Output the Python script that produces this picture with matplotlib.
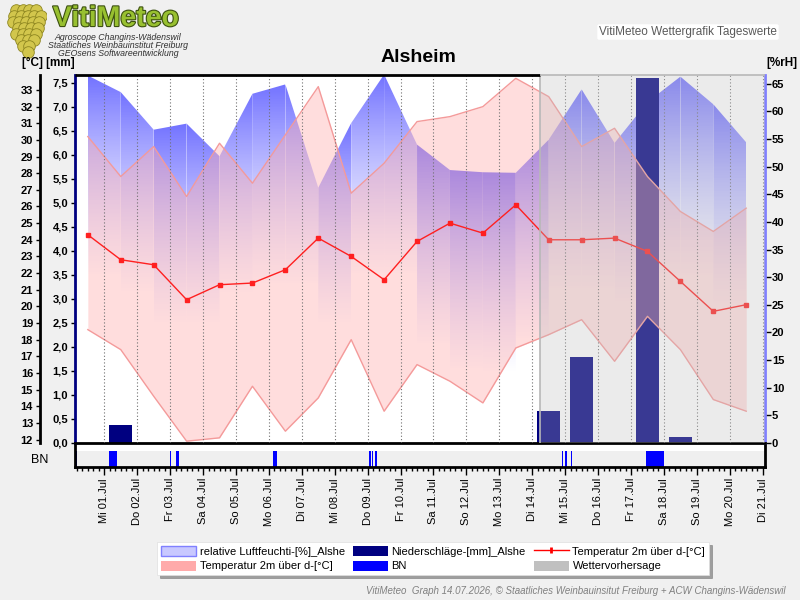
import numpy as np
import matplotlib.pyplot as plt
from matplotlib.patches import Polygon, Patch
from matplotlib.lines import Line2D
from matplotlib.ticker import MultipleLocator, FuncFormatter
import matplotlib.patheffects as pe

plt.rcParams['font.family'] = ['Liberation Sans', 'DejaVu Sans']

# x in days from 01.07. 00:00, daily values at noon (30.06. - 20.07.)
day_pos = np.arange(-0.5, 20.0, 1.0)
temp_mean = [24.3, 22.8, 22.5, 20.4, 21.3, 21.4, 22.2, 24.1, 23.0, 21.6, 23.9,
             25.0, 24.4, 26.1, 24.0, 24.0, 24.1, 23.3, 21.5, 19.7, 20.1]
temp_max = [30.2, 27.8, 29.6, 26.6, 29.8, 27.4, 30.3, 33.2, 26.8, 28.6, 31.1,
            31.4, 32.0, 33.7, 32.6, 29.6, 30.7, 27.8, 25.7, 24.5, 25.9]
temp_min = [18.6, 17.4, 14.6, 11.9, 12.1, 15.2, 12.5, 14.5, 18.0, 13.7, 16.5,
            15.5, 14.2, 17.5, 18.3, 19.2, 16.7, 19.4, 17.4, 14.4, 13.7]
humidity = [66.5, 63.5, 56.7, 57.8, 51.9, 63.2, 64.9, 46.2, 57.9, 66.7, 54.0,
            49.4, 49.0, 48.9, 54.9, 64.0, 54.3, 61.7, 66.3, 61.3, 54.4]

precip_pos = [0.5, 13.5, 14.5, 16.5, 17.5]
precip_mm = [0.38, 0.67, 1.8, 7.6, 0.13]

bn_start = [-0.86, 0.14, 2.00, 2.18, 5.12, 8.05, 8.13, 8.23, 13.89, 14.00, 14.19, 16.44]
bn_end = [-0.82, 0.39, 2.04, 2.26, 5.26, 8.09, 8.17, 8.28, 13.92, 14.05, 14.22, 17.00]

forecast_start = 13.25

day_labels = ['Mi 01.Jul', 'Do 02.Jul', 'Fr 03.Jul', 'Sa 04.Jul', 'So 05.Jul',
              'Mo 06.Jul', 'Di 07.Jul', 'Mi 08.Jul', 'Do 09.Jul', 'Fr 10.Jul',
              'Sa 11.Jul', 'So 12.Jul', 'Mo 13.Jul', 'Di 14.Jul', 'Mi 15.Jul',
              'Do 16.Jul', 'Fr 17.Jul', 'Sa 18.Jul', 'So 19.Jul', 'Mo 20.Jul',
              'Di 21.Jul']

xlo, xhi = -0.89, 20.07
t_lim = (11.79, 33.9)
mm_lim = (0, 7.66)
rh_lim = (0, 66.6)

fig = plt.figure(figsize=(8, 6), dpi=100, facecolor='#f0f0f0')
L, R = 75 / 800, 765 / 800
rect = [L, 1 - 443 / 600, R - L, 368 / 600]

ax_h = fig.add_axes(rect, zorder=1)
ax_p = fig.add_axes(rect, zorder=2, sharex=ax_h)
ax_t = fig.add_axes(rect, zorder=3, sharex=ax_h)
ax_p.patch.set_visible(False)
ax_t.patch.set_visible(False)
ax_h.set_facecolor('white')

# humidity: gradient area, one piece per day
yy = np.linspace(rh_lim[0], rh_lim[1], 300)
for i in range(len(day_pos) - 1):
    x0, x1 = day_pos[i], day_pos[i + 1]
    h0, h1 = humidity[i], humidity[i + 1]
    top = max(h0, h1)
    lo = top - 36
    a = np.clip((yy - lo) / (top - lo), 0, 1) ** 0.9
    img = np.zeros((len(yy), 1, 4))
    img[:, 0, 0] = (195 - 80 * a) / 255
    img[:, 0, 1] = (195 - 80 * a) / 255
    img[:, 0, 2] = 1.0
    img[:, 0, 3] = a
    im = ax_h.imshow(img, extent=[x0, x1, rh_lim[0], rh_lim[1]], origin='lower',
                     aspect='auto', interpolation='bilinear')
    poly = Polygon([[x0, 0], [x0, h0], [x1, h1], [x1, 0]], closed=True,
                   facecolor='none', edgecolor='none', transform=ax_h.transData)
    ax_h.add_patch(poly)
    im.set_clip_path(poly)

# precipitation
ax_p.bar(precip_pos, precip_mm, width=0.7, color='#000080', zorder=2)

# temperature band and mean
ax_t.fill_between(day_pos, temp_min, temp_max, color='#ffaaaa', alpha=0.4, lw=0, zorder=1)
ax_t.plot(day_pos, temp_max, color='#f49a9a', lw=1, zorder=2)
ax_t.plot(day_pos, temp_min, color='#f49a9a', lw=1, zorder=2)
ax_t.plot(day_pos, temp_mean, color='#ff2020', lw=1, marker='s', ms=2.2, zorder=4)

for d in range(21):
    ax_t.axvline(d, color='#707070', ls=(0, (1, 2)), lw=0.8, zorder=3)

# forecast overlay
ax_t.axvspan(forecast_start, xhi, color='#c0c0c0', alpha=0.3, lw=0, zorder=10)
ax_t.axvline(forecast_start, color='#b8b8b8', lw=1.2, zorder=11)
tr = ax_t.get_xaxis_transform()
ax_t.plot([xlo, forecast_start], [1, 1], color='black', lw=2, transform=tr,
          clip_on=False, zorder=12, solid_capstyle='butt')
ax_t.plot([forecast_start, xhi], [1, 1], color='#b8b8b8', lw=1.2, transform=tr,
          clip_on=False, zorder=12, solid_capstyle='butt')

ax_h.set_xlim(xlo, xhi)
ax_h.set_ylim(*rh_lim)
ax_p.set_ylim(*mm_lim)
ax_t.set_ylim(*t_lim)

for a_ in (ax_h, ax_p, ax_t):
    for s in a_.spines.values():
        s.set_visible(False)
    a_.tick_params(axis='x', length=0, labelbottom=False)

# humidity axis on the right
ax_h.yaxis.tick_right()
ax_h.spines['right'].set_visible(True)
ax_h.spines['right'].set_color('#8080ff')
ax_h.spines['right'].set_linewidth(2)
ax_h.yaxis.set_major_locator(MultipleLocator(5))
ax_h.tick_params(axis='y', length=4, width=1, pad=1, labelsize=8)

# mm axis
ax_p.spines['left'].set_visible(True)
ax_p.spines['left'].set_color('#000080')
ax_p.spines['left'].set_linewidth(2)
ax_p.spines['bottom'].set_visible(True)
ax_p.spines['bottom'].set_linewidth(2)
ax_p.yaxis.set_major_locator(MultipleLocator(0.5))
ax_p.yaxis.set_major_formatter(FuncFormatter(lambda v, p: f'{v:.1f}'.replace('.', ',')))
ax_p.tick_params(axis='y', length=3, width=1, pad=2, labelsize=8)

# temperature axis, offset left
ax_t.spines['left'].set_visible(True)
ax_t.spines['left'].set_position(('outward', 25.2))
ax_t.spines['left'].set_linewidth(2)
ax_t.set_yticks(range(12, 34))
ax_t.tick_params(axis='y', length=3, width=1, pad=2, labelsize=8)

for a_ in (ax_h, ax_p, ax_t):
    for lab in a_.get_yticklabels():
        lab.set_fontweight('bold')

# BN strip
ax_bn = fig.add_axes([L, 1 - 467 / 600, R - L, 24 / 600])
ax_bn.set_facecolor('white')
ax_bn.set_xlim(xlo, xhi)
ax_bn.set_ylim(0, 1)
ax_bn.axhspan(0, 16 / 24, color='#efefef', lw=0)
ax_bn.bar(bn_start, 16 / 24, width=np.subtract(bn_end, bn_start), align='edge',
          color='#0000ff', lw=0)
ax_bn.set_yticks([])
ax_bn.set_xticks(range(21))
ax_bn.set_xticklabels(day_labels, rotation=90, fontsize=8)
ax_bn.xaxis.set_minor_locator(MultipleLocator(1 / 6))
ax_bn.tick_params(axis='x', which='major', length=6, width=1, pad=2)
ax_bn.tick_params(axis='x', which='minor', length=3, width=1)
for s in ax_bn.spines.values():
    s.set_linewidth(2)
ax_bn.spines['top'].set_visible(False)
fig.text(40 / 800, 1 - 460 / 600, 'BN', ha='center', va='center', fontsize=9)

# header texts
fig.text(418 / 800, 1 - 58 / 600, 'Alsheim', ha='center', va='center',
         fontsize=14, fontweight='bold')
fig.text(22 / 800, 1 - 63 / 600, '[°C] [mm]', ha='left', va='center',
         fontsize=8.5, fontweight='bold')
fig.text(797 / 800, 1 - 63 / 600, '[%rH]', ha='right', va='center',
         fontsize=8.5, fontweight='bold')
fig.text(688 / 800, 1 - 32 / 600, 'VitiMeteo Wettergrafik Tageswerte', ha='center',
         va='center', fontsize=8.5, color='#5a5a5a',
         bbox=dict(boxstyle='round,pad=0.15', fc='white', ec='none'))

# logo
fig.text(116 / 800, 1 - 26 / 600, 'VitiMeteo', ha='center', va='baseline',
         fontsize=20.5, fontweight='bold', color='#98c030',
         path_effects=[pe.withStroke(linewidth=1.6, foreground='#3c5010')])
for k, line in enumerate(['Agroscope Changins-Wädenswil',
                          'Staatliches Weinbauinstitut Freiburg',
                          'GEOsens Softwareentwicklung']):
    fig.text(118 / 800, 1 - (37 + 8 * k) / 600, line, ha='center', va='center',
             fontsize=6.3, style='italic', color='#303030')
ax_logo = fig.add_axes([6 / 800, 1 - 58 / 600, 40 / 800, 54 / 600])
ax_logo.set_axis_off()
rows = [4, 5, 5, 4, 4, 3, 2, 1]
for r, n in enumerate(rows):
    xs = np.arange(n) - (n - 1) / 2 + 0.25 * (r % 2)
    ax_logo.scatter(xs, np.full(n, -r * 0.85), s=70, color='#d2c64c',
                    edgecolor='#8e8620', lw=0.6)
ax_logo.set_xlim(-3, 3)
ax_logo.set_ylim(-6.8, 0.9)

# legend
handles = [Patch(facecolor='#c8c8ff', edgecolor='#8080ff'),
           Patch(facecolor='#ffaaaa', edgecolor='none'),
           Patch(facecolor='#000080', edgecolor='none'),
           Patch(facecolor='#0000ff', edgecolor='none'),
           Line2D([], [], color='red', lw=1, marker='|', ms=5, mew=2),
           Patch(facecolor='#c0c0c0', edgecolor='none')]
labels = ['relative Luftfeuchti-[%]_Alshe', 'Temperatur 2m über d-[°C]',
          'Niederschläge-[mm]_Alshe', 'BN',
          'Temperatur 2m über d-[°C]', 'Wettervorhersage']
leg = fig.legend(handles, labels, ncol=3, loc='upper left',
                 bbox_to_anchor=(157 / 800, 1 - 542 / 600), fontsize=8,
                 frameon=True, fancybox=False, shadow=True, edgecolor='#e0e0e0',
                 handlelength=3.2, handleheight=1.0, columnspacing=0.7,
                 borderaxespad=0, labelspacing=0.35, borderpad=0.35, handletextpad=0.3)
leg.get_frame().set_linewidth(0.5)

fig.text(785 / 800, 1 - 591 / 600,
         'VitiMeteo  Graph 14.07.2026, © Staatliches Weinbauinsitut Freiburg + ACW Changins-Wädenswil',
         ha='right', va='center', fontsize=7, style='italic', color='#808080')

fig.savefig('out.png', dpi=100, facecolor=fig.get_facecolor())
